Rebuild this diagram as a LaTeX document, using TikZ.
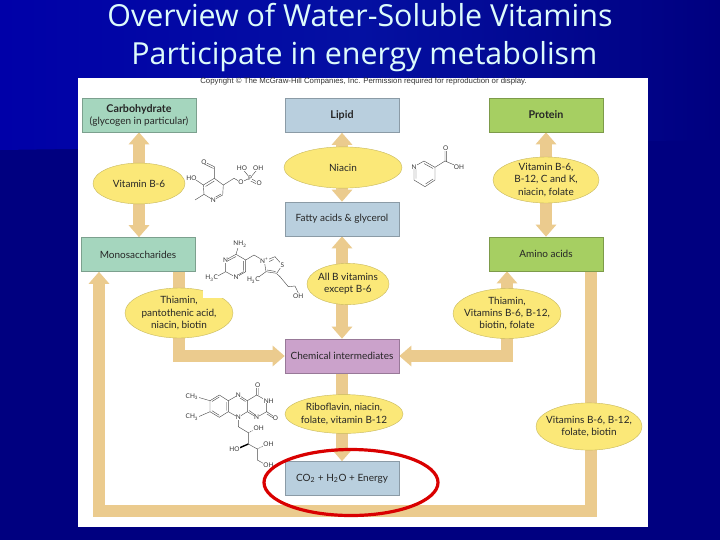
\documentclass[tikz,border=0pt]{standalone}
\usepackage{fontspec}
\setmainfont{Lato}
\newfontfamily\titlefont{Open Sans}
\newfontfamily\notefont{Liberation Sans}
\usetikzlibrary{arrows.meta,backgrounds,shadows,shapes.geometric}
\definecolor{slidenavy}{HTML}{000080}
\definecolor{slideleft}{HTML}{0000A8}
\definecolor{slidemid}{HTML}{0410A2}
\definecolor{titleink}{HTML}{DDFBFB}
\definecolor{flowtan}{HTML}{EBCB8E}
\definecolor{carbgreen}{HTML}{A5D6BE}
\definecolor{lipidblue}{HTML}{B9CFDE}
\definecolor{protgreen}{HTML}{A6CF62}
\definecolor{chempurple}{HTML}{CBA2CB}
\definecolor{vityellow}{HTML}{FBE878}
\tikzset{
  labeltext/.style={font=\fontsize{7.1}{8.6}\selectfont,text=black!85,align=center,inner sep=0pt},
  foodbox/.style={labeltext,rectangle,minimum width=2.85cm,minimum height=.85cm,drop shadow={shadow xshift=.5pt,shadow yshift=-.5pt,opacity=.35,fill=black}},
  vitellipse/.style={labeltext,ellipse,inner sep=-.6cm,fill=vityellow,draw=vityellow!80!black,line width=.3pt},
  flow/.style={draw=flowtan,line width=.3cm,>={Triangle[length=.3cm,width=.5cm]}},
  bond/.style={draw=black!70,line width=.3pt},
  atom/.style={font=\fontsize{4.6}{5}\selectfont,text=black!80,fill=white,inner sep=.2pt},
}
\begin{document}
\begin{tikzpicture}[x=.025cm,y=-.025cm]
  % title and copyright line
  \node[font=\titlefont\fontsize{21.6}{27.4}\selectfont,text=titleink,align=center,inner sep=0pt] (title) at (360,37.5) {Overview of Water-Soluble Vitamins\\ \hspace*{.22cm}Participate in energy metabolism};
  \node[font=\notefont\fontsize{5.55}{6}\selectfont,text=black!80,inner sep=0pt] (copyright) at (363.5,81.5) {Copyright © The McGraw-Hill Companies, Inc. Permission required for reproduction or display.};
  % boxes
  \node[foodbox,fill=carbgreen,draw=carbgreen!75!black] (carb) at (139,115) {{\fontsize{7.6}{9}\selectfont\bfseries Carbohydrate}\\(glycogen in particular)};
  \node[foodbox,fill=lipidblue,draw=lipidblue!75!black] (lipid) at (342,115.5) {\fontsize{7.6}{9}\selectfont\bfseries Lipid};
  \node[foodbox,fill=protgreen,draw=protgreen!75!black] (protein) at (546,115) {\fontsize{7.6}{9}\selectfont\bfseries Protein};
  \node[foodbox,fill=carbgreen,draw=carbgreen!75!black] (monos) at (138,254.5) {Monosaccharides};
  \node[foodbox,fill=lipidblue,draw=lipidblue!75!black] (fatty) at (342,219) {Fatty acids \& glycerol};
  \node[foodbox,fill=protgreen,draw=protgreen!75!black] (amino) at (546,254) {Amino acids};
  \node[foodbox,fill=chempurple,draw=chempurple!75!black] (chem) at (342,356) {Chemical intermediates};
  \node[foodbox,fill=lipidblue,draw=lipidblue!75!black] (energy) at (342,478.5) {CO\textsubscript{2} + H\textsubscript{2}O + Energy};
  % vitamins
  \node[vitellipse,minimum width=2.3cm,minimum height=1.02cm] (vitcarb) at (139,183.5) {Vitamin B-6};
  \node[vitellipse,minimum width=2.95cm,minimum height=1.03cm] (niacin) at (343,167.5) {Niacin};
  \node[vitellipse,minimum width=2.65cm,minimum height=1.15cm] (vitprot) at (546,180) {Vitamin B-6,\\B-12, C and K,\\niacin, folate};
  \node[vitellipse,minimum width=2.05cm,minimum height=1.03cm] (vitall) at (348,284) {All B vitamins\\except B-6};
  \node[vitellipse,minimum width=2.7cm,minimum height=1.25cm] (vitmono) at (179,313) {Thiamin,\\pantothenic acid,\\niacin, biotin};
  \node[vitellipse,minimum width=2.7cm,minimum height=1.25cm] (vitamino) at (507,313.5) {Thiamin,\\Vitamins B-6, B-12,\\biotin, folate};
  \node[vitellipse,minimum width=2.95cm,minimum height=.97cm] (vitchem) at (344,414) {Riboflavin, niacin,\\folate, vitamin B-12};
  \node[vitellipse,minimum width=2.65cm,minimum height=1.18cm] (vitloop) at (589,426.5) {Vitamins B-6, B-12,\\folate, biotin};
  \coordinate (rail) at (345,511);
  % backdrop and arrows
  \begin{scope}[on background layer]
    \fill[slidenavy] (0,0) rectangle (720,540);
    \shade[left color=slideleft,right color=slidenavy,middle color=slidemid] (0,0) -- (720,0) -- (720,140) -- (0,150) -- cycle;
    \fill[white] (78,78) rectangle (648,527);
    \draw[flow,<->] (carb.south) -- (carb.south |- monos.north);
    \draw[flow,<->] (lipid.south) -- (fatty.north);
    \draw[flow,<->] (fatty.south) -- (chem.north);
    \draw[flow,<->] (protein.south) -- (amino.north);
    \draw[flow,->] (chem.south) -- (energy.north);
    \draw[flow,->] ([xshift=1.025cm]monos.south) |- (chem.west);
    \draw[flow,<->] ([xshift=-.975cm]amino.south) |- (chem.east);
    \draw[flow,->] ([xshift=1.125cm]amino.south) |- (rail) -| ([xshift=-.975cm]monos.south);
  \end{scope}
  % the cut in the thiamin ellipse
  \fill[white] (203,284) rectangle (238,298);
  % pyridoxal phosphate
  \draw[bond] (203.3,185)--(214.3,178.3)--(223.3,185)--(222.7,195)--(213.3,200)--(204,194.3)--cycle;
  \draw[bond] (205.5,186.5)--(214.3,181) (221,194)--(214,198);
  \draw[bond] (214.3,178.3)--(214.3,166.7)--(204,161.7) (213.5,168.5)--(204,163.8);
  \draw[bond] (204,194.3)--(195,200) (203.3,185)--(192.7,177.7);
  \draw[bond] (223.3,185)--(234,178.3)--(241,182.3)--(250,178);
  \draw[bond] (250,178)--(242,168.3) (250,178)--(258.3,168.3) (250,178)--(259.3,183.3) (249,180)--(258.3,185);
  \node[atom] (pyrO) at (204,161.7) {O};
  \node[atom] (pyrHO) at (191.5,177.7) {HO};
  \node[atom] (pyrN) at (213.3,200) {N};
  \node[atom] (pyrOb) at (241,182.3) {O};
  \node[atom] (pyrP) at (250,178) {P};
  \node[atom] (pyrHOb) at (242,168.3) {HO};
  \node[atom] (pyrOH) at (258.3,168.3) {OH};
  \node[atom] (pyrOc) at (259.3,183.3) {O};
  % thiamin
  \draw[bond] (225.7,260)--(236,254.3)--(245.7,260)--(245.7,271.7)--(236,277.3)--(225.7,271.7)--cycle;
  \draw[bond] (227.5,261)--(236,256.5) (243.7,261)--(243.7,270.5) (238,275)--(243.7,271.5);
  \draw[bond] (236,254.3)--(238.5,246) (225.7,271.7)--(215,277.5);
  \draw[bond] (245.7,260)--(254,255)--(264.3,261);
  \draw[bond] (264.3,261)--(275,256.7)--(282.3,265)--(276.7,273.3)--(266,271.7)--cycle;
  \draw[bond] (266,263)--(273.5,259.5) (267,270)--(275.5,271.5);
  \draw[bond] (266,271.7)--(258,277.5) (277,274)--(280,276.7)--(288.3,286.7)--(295,286)--(298.3,293);
  \node[atom] (thiNH) at (240,244.3) {NH\textsubscript{2}};
  \node[atom] (thiNa) at (225.7,260) {N};
  \node[atom] (thiNb) at (236,277.3) {N};
  \node[atom] (thiCHa) at (211.7,278.3) {H\textsubscript{3}C};
  \node[atom] (thiCHb) at (253.3,280) {H\textsubscript{3}C};
  \node[atom] (thiNc) at (264.3,261) {N\textsuperscript{+}};
  \node[atom] (thiS) at (282.3,265) {S};
  \node[atom] (thiOH) at (298.3,296) {OH};
  % niacin
  \draw[bond] (414,166.7)--(424,161)--(435,167.3)--(435,180)--(425,186.7)--(414,180)--cycle;
  \draw[bond] (424,163.5)--(433,168.5) (433,179)--(425.5,184) (416,169)--(416,178.5);
  \draw[bond] (435,167.3)--(445,161)--(445,148.3) (446.7,161)--(446.7,149) (445,161)--(458.3,166.7);
  \node[atom] (niaN) at (414,166.7) {N};
  \node[atom] (niaO) at (445.8,148.3) {O};
  \node[atom] (niaOH) at (459,166.7) {OH};
  % riboflavin
  \draw[bond] (210,400.7)--(219.3,395)--(228.3,400.7)--(228.3,411.7)--(219.3,417.3)--(210,411.7)--cycle;
  \draw[bond] (212,401.5)--(219.3,397) (226.5,402)--(226.5,410.5) (212,410.7)--(219.3,415.3);
  \draw[bond] (228.3,400.7)--(238.3,395)--(247.3,400.7)--(247.3,411.7)--(238.3,417.3)--(228.3,411.7);
  \draw[bond] (247.3,400.7)--(256.7,395)--(266.7,400.7)--(266.7,411.7)--(256.7,417.3)--(247.3,411.7);
  \draw[bond] (238.5,397)--(245.5,401.5) (249,410.5)--(255.5,415);
  \draw[bond] (256.7,395)--(256.7,385) (258.5,395)--(258.5,385) (266.7,411.7)--(275,417.3) (267,414)--(274,418.5);
  \draw[bond] (210,400.7)--(199,397.5) (210,411.7)--(199,416.5);
  \draw[bond] (238.3,417.3)--(238.3,426.7)--(248.3,432.7)--(248.3,444)--(257.3,449)--(257.3,460)--(265,464.3);
  \draw[bond,dashed,dash pattern=on .8pt off .5pt] (248.3,432.7)--(256,429) (257.3,449)--(265,445);
  \draw[draw=black,line width=1pt] (248.3,444)--(238,448.5);
  \node[atom] (ribCHa) at (192,396.7) {CH\textsubscript{3}};
  \node[atom] (ribCHb) at (192,417.3) {CH\textsubscript{3}};
  \node[atom] (ribNa) at (238.3,395) {N};
  \node[atom] (ribNb) at (238.3,417.3) {N};
  \node[atom] (ribNc) at (256.7,417.3) {N};
  \node[atom] (ribO) at (257.6,385) {O};
  \node[atom] (ribNH) at (268.7,400.7) {NH};
  \node[atom] (ribOb) at (275.5,418) {O};
  \node[atom] (ribOHa) at (258.8,428.3) {OH};
  \node[atom] (ribHO) at (234.5,449) {HO};
  \node[atom] (ribOHb) at (268.5,444) {OH};
  \node[atom] (ribOHc) at (268.5,465) {OH};
  % the red ring
  \draw[red!85!black,line width=.08cm] (351,482.5) ellipse [x radius=87,y radius=33];
\end{tikzpicture}
\end{document}
